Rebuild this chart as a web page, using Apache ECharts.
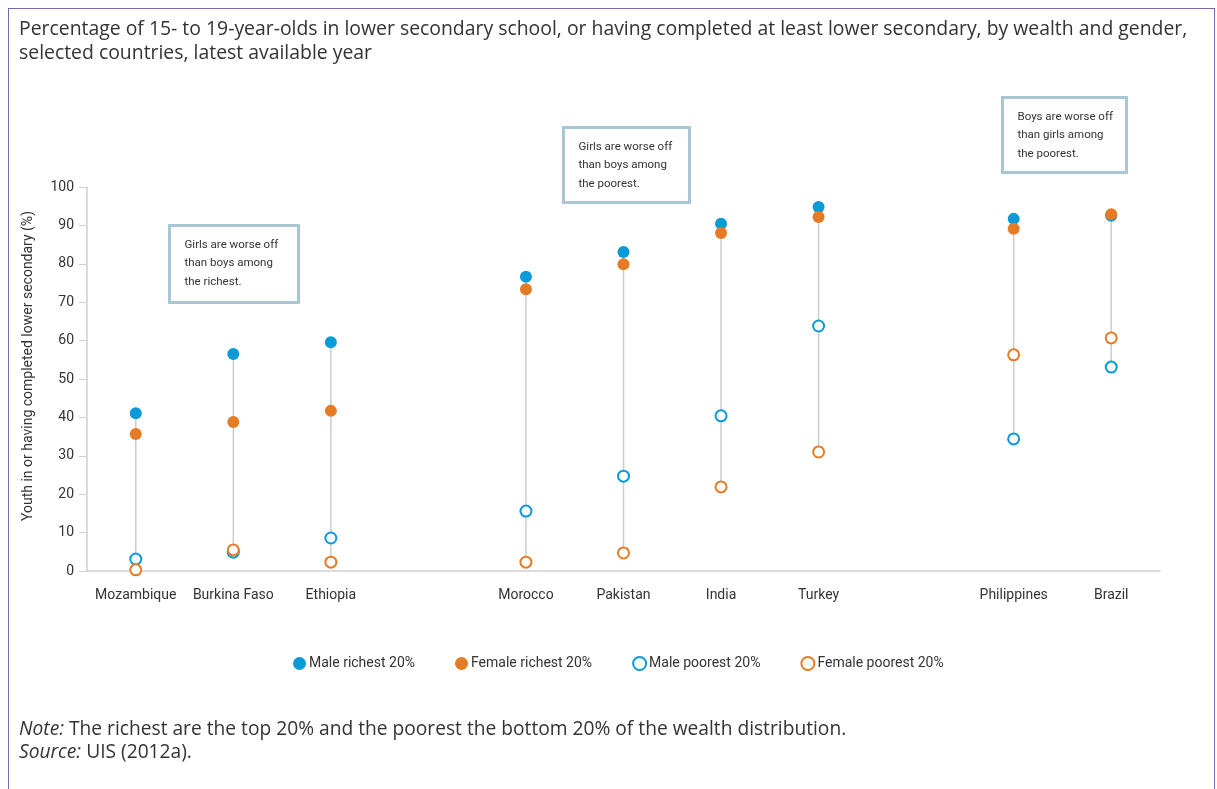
<!DOCTYPE html>
<html>
<head>
<meta charset="utf-8">
<script src="https://cdn.jsdelivr.net/npm/echarts@6/dist/echarts.min.js"></script>
<style>
  html, body { margin: 0; padding: 0; background: #fff; }
  #frame {
    position: absolute; left: 8px; top: 8px; width: 1205px; height: 790px;
    border: 1.5px solid #7e65ab; border-bottom: none;
  }
  #chart { position: absolute; left: 0; top: 0; width: 1217px; height: 789px; }
</style>
</head>
<body>
<div id="frame"></div>
<div id="chart"></div>
<script>
// blank entries keep the gaps between the three country groups
const countries = ['Mozambique', 'Burkina Faso', 'Ethiopia', '', 'Morocco', 'Pakistan', 'India', 'Turkey', '', 'Philippines', 'Brazil']
const maleRichest = [41.1, 56.5, 59.6, null, 76.6, 83.1, 90.4, 94.8, null, 91.7, 92.5]
const femaleRichest = [35.7, 38.8, 41.7, null, 73.4, 79.9, 88.0, 92.2, null, 89.1, 92.9]
const malePoorest = [3.1, 4.9, 8.6, null, 15.6, 24.7, 40.4, 63.8, null, 34.4, 53.1]
const femalePoorest = [0.3, 5.5, 2.3, null, 2.3, 4.7, 21.9, 31.0, null, 56.3, 60.7]
const yTicks = [0, 100, 10]

const BLUE = '#0a9ad7'
const ORANGE = '#e57b25'
const FONT = 'Roboto'
const WIDE_FONT = 'Open Sans'

// range line per country: from the lowest to the highest of the four values
const rangeData = countries.map((c, i) => {
  const vals = [maleRichest[i], femaleRichest[i], malePoorest[i], femalePoorest[i]].filter((v) => v != null)
  return vals.length ? [i, Math.min(...vals), Math.max(...vals)] : [i, null, null]
})

const chart = echarts.init(document.getElementById('chart'))

function noteBox(x, y, w, h, lines) {
  return {
    type: 'group',
    left: x,
    top: y,
    children: [
      { type: 'rect', shape: { x: 0, y: 0, width: w, height: h }, style: { fill: '#fff', stroke: '#a9c6d4', lineWidth: 3 } },
      { type: 'text', x: 15, y: 10, style: { text: lines.join('\n'), fill: '#333', font: '11.5px ' + FONT, lineHeight: 18.5 } }
    ]
  }
}

chart.setOption({
  animation: false,
  textStyle: { fontFamily: FONT },
  title: {
    text: 'Percentage of 15- to 19-year-olds in lower secondary school, or having completed at least lower secondary, by wealth and gender,\nselected countries, latest available year',
    left: 14,
    top: 12,
    textStyle: { fontSize: 19.4, fontWeight: 'normal', color: '#333', lineHeight: 24, fontFamily: WIDE_FONT }
  },
  legend: {
    top: 651,
    left: 288,
    itemGap: 40,
    itemWidth: 13,
    itemHeight: 13,
    textStyle: { fontSize: 14, color: '#333', padding: [0, 0, 0, -2] },
    data: ['Male richest 20%', 'Female richest 20%', 'Male poorest 20%', 'Female poorest 20%']
  },
  grid: { left: 87, right: 57, top: 187, bottom: 218 },
  xAxis: {
    type: 'category',
    data: countries,
    axisLine: { lineStyle: { color: '#cfcfcf', width: 1.5 } },
    axisTick: { show: false },
    axisLabel: { color: '#333', fontSize: 14, margin: 17, interval: 0 }
  },
  yAxis: {
    type: 'value',
    min: yTicks[0],
    max: yTicks[1],
    interval: yTicks[2],
    name: 'Youth in or having completed lower secondary (%)',
    nameLocation: 'middle',
    nameGap: 52,
    nameTextStyle: { color: '#333', fontSize: 14, padding: [0, 0, 0, 26] },
    axisLine: { show: true, lineStyle: { color: '#cfcfcf', width: 1.5 } },
    axisTick: { show: true, length: 8, lineStyle: { color: '#cfcfcf' } },
    axisLabel: { color: '#333', fontSize: 14, margin: 13 },
    splitLine: { show: false }
  },
  graphic: [
    noteBox(168, 224, 129, 77, ['Girls are worse off', 'than boys among', 'the richest.']),
    noteBox(562, 126, 126, 75, ['Girls are worse off', 'than boys among', 'the poorest.']),
    noteBox(1001, 96, 124, 75, ['Boys are worse off', 'than girls among', 'the poorest.']),
    {
      type: 'text',
      left: 19,
      top: 718,
      style: {
        text: '{i|Note:} The richest are the top 20% and the poorest the bottom 20% of the wealth distribution.\n{i|Source:} UIS (2012a).',
        fill: '#333',
        font: '19.2px ' + WIDE_FONT,
        lineHeight: 23,
        rich: { i: { fontStyle: 'italic', fontSize: 19.2, fontFamily: WIDE_FONT } }
      }
    }
  ],
  series: [
    {
      type: 'custom',
      silent: true,
      z: 1,
      data: rangeData,
      renderItem: (params, api) => {
        if (api.value(1) == null || isNaN(api.value(1))) return
        const p1 = api.coord([api.value(0), api.value(1)])
        const p2 = api.coord([api.value(0), api.value(2)])
        return {
          type: 'line',
          shape: { x1: p1[0], y1: p1[1], x2: p2[0], y2: p2[1] },
          style: { stroke: '#cccccc', lineWidth: 1.5 }
        }
      }
    },
    {
      name: 'Male richest 20%',
      type: 'scatter',
      z: 3,
      symbol: 'circle',
      symbolSize: 12,
      itemStyle: { color: BLUE, opacity: 1 },
      data: maleRichest
    },
    {
      name: 'Female richest 20%',
      type: 'scatter',
      z: 4,
      symbol: 'circle',
      symbolSize: 12,
      itemStyle: { color: ORANGE, opacity: 1 },
      data: femaleRichest
    },
    {
      name: 'Male poorest 20%',
      type: 'scatter',
      z: 3,
      symbol: 'circle',
      symbolSize: 11,
      itemStyle: { color: '#fff', borderColor: BLUE, borderWidth: 2, opacity: 1 },
      data: malePoorest
    },
    {
      name: 'Female poorest 20%',
      type: 'scatter',
      z: 4,
      symbol: 'circle',
      symbolSize: 11,
      itemStyle: { color: '#fff', borderColor: ORANGE, borderWidth: 2, opacity: 1 },
      data: femalePoorest
    }
  ]
})
</script>
</body>
</html>
